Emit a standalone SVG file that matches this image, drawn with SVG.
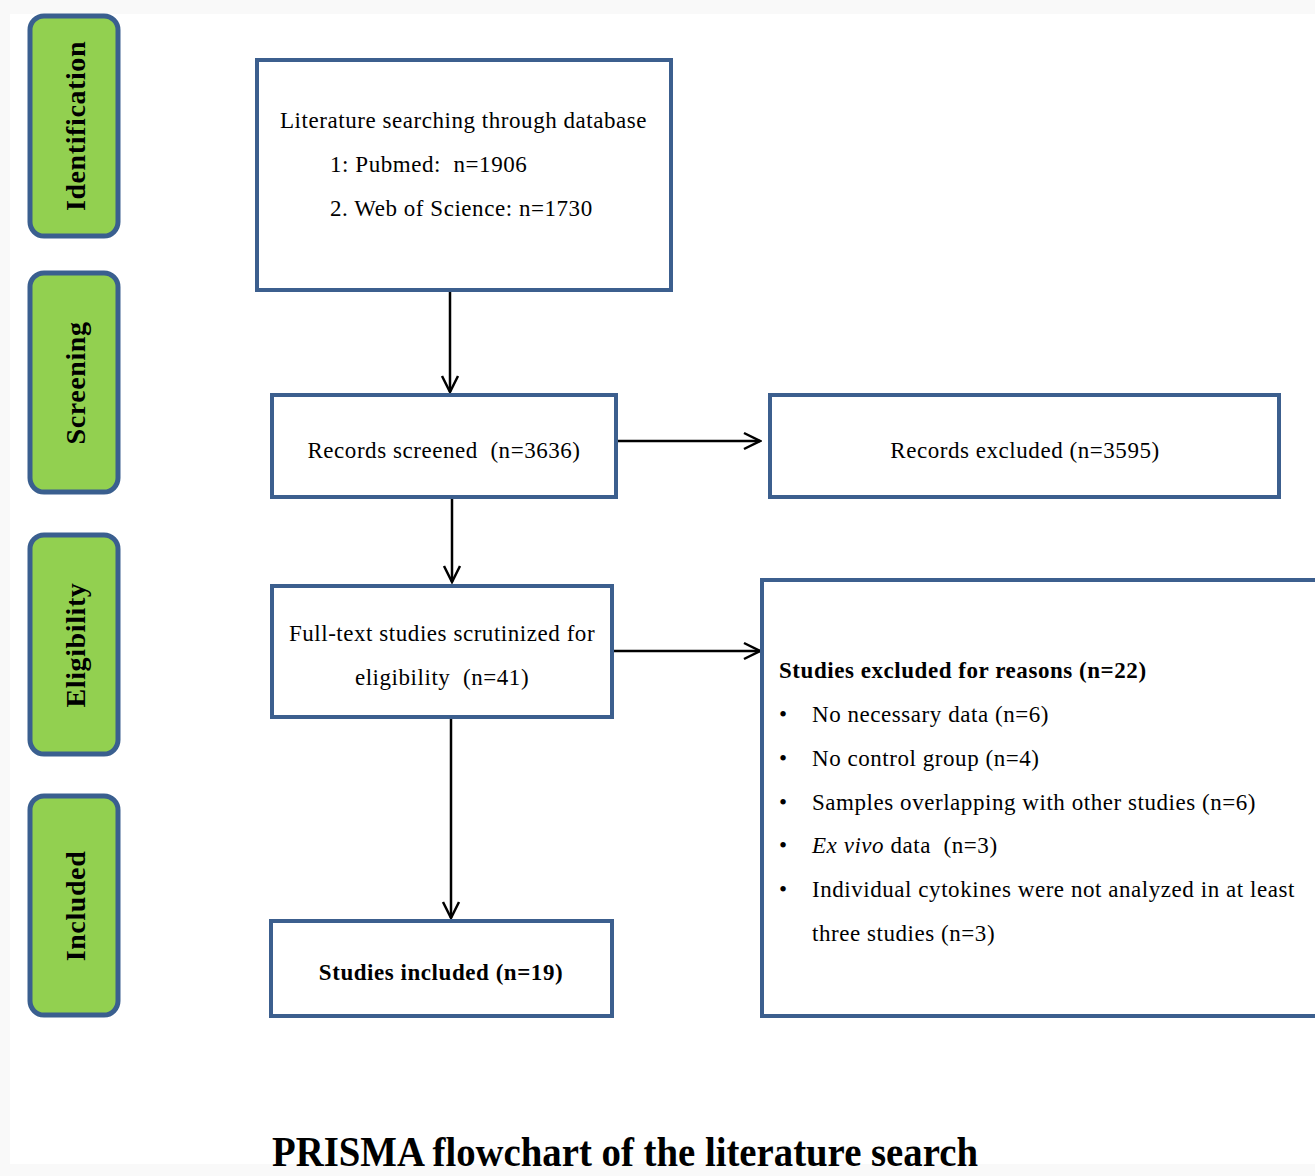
<svg xmlns="http://www.w3.org/2000/svg" width="1315" height="1176" viewBox="0 0 1315 1176">
<defs>
<style>
.stage{fill:#92d050;stroke:#3a5f8f;stroke-width:5}
.box{fill:#fff;stroke:#3c5f8e;stroke-width:4}
.st{font-family:"Liberation Serif",serif;font-size:28px;font-weight:bold;fill:#000;text-anchor:middle;letter-spacing:0.6px}
.t{font-family:"Liberation Serif",serif;font-size:23px;fill:#000;letter-spacing:0.55px;white-space:pre}
.b{font-weight:bold}
.c{text-anchor:middle}
.conn{stroke:#000;stroke-width:2.5;fill:none}
</style>
<marker id="ah" viewBox="0 0 20 20" refX="18" refY="10" markerWidth="20" markerHeight="20" markerUnits="userSpaceOnUse" orient="auto">
<path d="M2,2 L18,10 L2,18" fill="none" stroke="#000" stroke-width="2.5"/>
</marker>
</defs>
<rect x="0" y="0" width="1315" height="1176" fill="#f9f9f9"/>
<rect x="10" y="14" width="1305" height="1150" fill="#fff"/>

<g id="stage-identification"><rect class="stage" x="30" y="16" width="88" height="220" rx="14"/><text class="st" transform="translate(85,126) rotate(-90)">Identification</text></g>
<g id="stage-screening"><rect class="stage" x="30" y="273" width="88" height="219" rx="14"/><text class="st" transform="translate(85,383) rotate(-90)">Screening</text></g>
<g id="stage-eligibility"><rect class="stage" x="30" y="535" width="88" height="219" rx="14"/><text class="st" transform="translate(85,645) rotate(-90)">Eligibility</text></g>
<g id="stage-included"><rect class="stage" x="30" y="796" width="88" height="219" rx="14"/><text class="st" transform="translate(85,906) rotate(-90)">Included</text></g>

<g id="connectors">
<line class="conn" x1="450" y1="290" x2="450" y2="392" marker-end="url(#ah)"/>
<line class="conn" x1="452" y1="498" x2="452" y2="582" marker-end="url(#ah)"/>
<line class="conn" x1="451" y1="717" x2="451" y2="918" marker-end="url(#ah)"/>
<line class="conn" x1="616" y1="441" x2="760" y2="441" marker-end="url(#ah)"/>
<line class="conn" x1="613" y1="651" x2="760" y2="651" marker-end="url(#ah)"/>
</g>

<g id="node-search"><rect class="box" x="257" y="60" width="414" height="230"/>
<text class="t" x="280" y="128">Literature searching through database</text>
<text class="t" x="330" y="172">1: Pubmed:  n=1906</text>
<text class="t" x="330" y="216">2. Web of Science: n=1730</text></g>

<g id="node-screened"><rect class="box" x="272" y="395" width="344" height="102"/>
<text class="t c" x="444" y="458">Records screened  (n=3636)</text></g>

<g id="node-excluded"><rect class="box" x="770" y="395" width="509" height="102"/>
<text class="t c" x="1025" y="458">Records excluded (n=3595)</text></g>

<g id="node-fulltext"><rect class="box" x="272" y="586" width="340" height="131"/>
<text class="t c" x="442" y="641">Full-text studies scrutinized for</text>
<text class="t c" x="442" y="685">eligibility  (n=41)</text></g>

<g id="node-reasons"><rect class="box" x="762" y="580" width="556" height="436"/>
<text class="t b" x="779" y="678">Studies excluded for reasons (n=22)</text>
<text class="t" x="779" y="722">•</text><text class="t" x="812" y="722">No necessary data (n=6)</text>
<text class="t" x="779" y="766">•</text><text class="t" x="812" y="766">No control group (n=4)</text>
<text class="t" x="779" y="810">•</text><text class="t" x="812" y="810">Samples overlapping with other studies (n=6)</text>
<text class="t" x="779" y="853">•</text><text class="t" x="812" y="853"><tspan font-style="italic">Ex vivo</tspan> data  (n=3)</text>
<text class="t" x="779" y="897">•</text><text class="t" x="812" y="897">Individual cytokines were not analyzed in at least</text>
<text class="t" x="812" y="941">three studies (n=3)</text></g>

<g id="node-included"><rect class="box" x="271" y="921" width="341" height="95"/>
<text class="t b c" x="441" y="980">Studies included (n=19)</text></g>

<text transform="translate(272,1166) scale(1,1.15)" font-family="Liberation Serif,serif" font-weight="bold" font-size="36" textLength="706" lengthAdjust="spacingAndGlyphs">PRISMA flowchart of the literature search</text>
</svg>
